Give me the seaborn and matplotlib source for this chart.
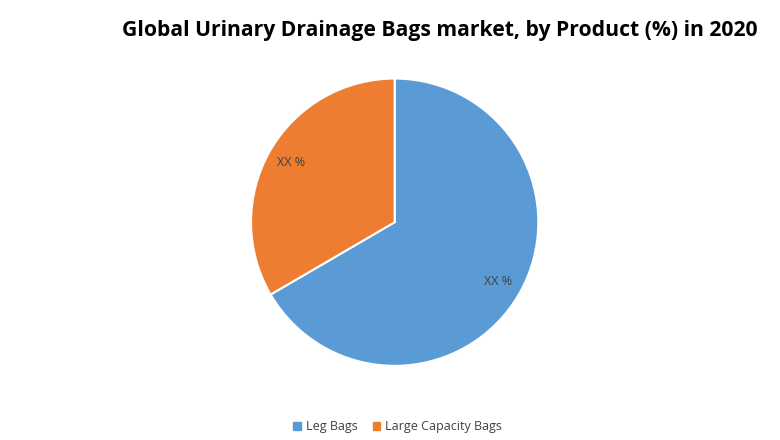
import matplotlib
matplotlib.use("Agg")
import matplotlib.pyplot as plt
import seaborn as sns
from matplotlib.patches import Patch

sns.set_theme(style="white")
plt.rcParams['font.family'] = ['Open Sans', 'DejaVu Sans']

# data
products = ["Leg Bags", "Large Capacity Bags"]
shares = [66.6, 33.4]
shown = ["XX %", "XX %"]
colors = ["#5B9BD5", "#ED7D31"]

fig = plt.figure(figsize=(7.8, 4.4), dpi=100)
ax = fig.add_axes([0.32, 0.165, 0.372, 0.66])
wedges, texts, autotexts = ax.pie(
    shares, colors=colors, startangle=90, counterclock=False,
    autopct=lambda p: "XX %", pctdistance=0.83,
    wedgeprops=dict(edgecolor="white", linewidth=1.5),
    textprops=dict(fontsize=9, color="#404040"))
for t, s in zip(autotexts, shown):
    t.set_text(s)
ax.set_aspect("equal")
ax.set_xlim(-1.01, 1.01)
ax.set_ylim(-1.01, 1.01)

fig.text(0.564, 0.93, "Global Urinary Drainage Bags market, by Product (%) in 2020",
         ha="center", va="center", fontsize=15.2, fontweight="bold", color="black")

handles = [Patch(color=c, label=l) for c, l in zip(colors, products)]
fig.legend(handles=handles, loc="center", bbox_to_anchor=(0.51, 0.03), ncol=2,
           frameon=False, fontsize=9, handlelength=0.6, handleheight=0.6,
           columnspacing=1.2, handletextpad=0.4, labelcolor="#404040")

fig.savefig("out.png", dpi=100)
